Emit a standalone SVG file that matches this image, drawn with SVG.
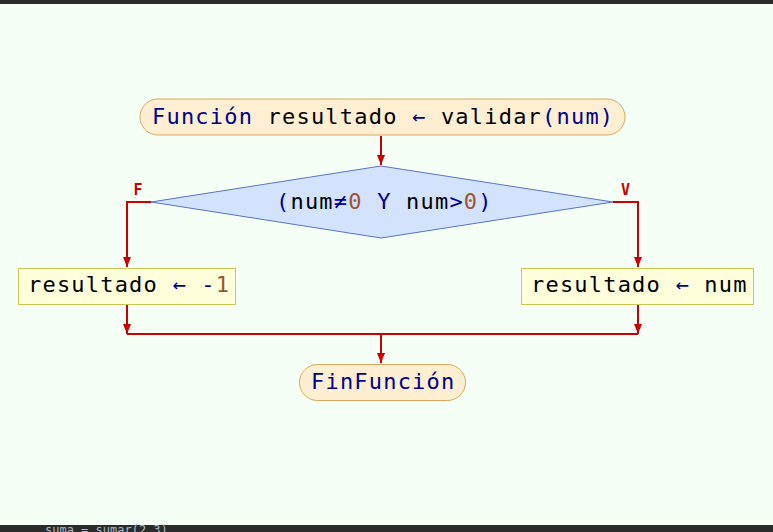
<svg xmlns="http://www.w3.org/2000/svg" width="773" height="532" viewBox="0 0 773 532">
<defs>
<style>
.t{font-family:"DejaVu Sans Mono","Liberation Mono",monospace;font-size:22px;letter-spacing:1.2px}
.k{fill:#000090}.b{fill:#000}.n{fill:#a0522d}
.term{fill:#feefd2;stroke:#d8a95c;stroke-width:1}
.box{fill:#ffffdc;stroke:#cdc752;stroke-width:1}
.dec{fill:#d3e2fd;stroke:#5a73c8;stroke-width:1}
.c{fill:none;stroke:#cc0000;stroke-width:2}
.lbl{font-family:"DejaVu Sans Mono","Liberation Mono",monospace;font-size:15px;font-weight:bold;fill:#cc0000;text-anchor:middle}
</style>
<marker id="ah" viewBox="0 0 10 8" refX="10" refY="4" markerWidth="10" markerHeight="8" markerUnits="userSpaceOnUse" orient="auto">
<path d="M0,0 L10,4 L0,8 Z" fill="#cc0000"/>
</marker>
</defs>
<rect x="0" y="0" width="773" height="532" fill="#f6fff6"/>
<rect x="0" y="0" width="773" height="4" fill="#2b2b2b"/>
<rect x="0" y="525" width="773" height="7" fill="#2b2b2b"/>
<text x="45" y="534" font-family="DejaVu Sans Mono,monospace" font-size="12" fill="#a9b7c6">suma = sumar(2,3)</text>

<g id="connectors">
<path class="c" d="M381,136 V165" marker-end="url(#ah)"/>
<path class="c" d="M151,202 H127 V267" marker-end="url(#ah)"/>
<path class="c" d="M613,202 H638 V267" marker-end="url(#ah)"/>
<path class="c" d="M127,305 V334" marker-end="url(#ah)"/>
<path class="c" d="M638,305 V334" marker-end="url(#ah)"/>
<path class="c" d="M127,334 H638"/>
<path class="c" d="M381,334 V363" marker-end="url(#ah)"/>
<text class="lbl" x="138" y="195">F</text>
<text class="lbl" x="625.5" y="195">V</text>
</g>

<g id="start">
<rect class="term" x="140" y="99" width="485" height="36" rx="18"/>
<text class="t" x="152" y="124"><tspan class="k">Función</tspan><tspan class="b"> resultado </tspan><tspan class="k">←</tspan><tspan class="b"> validar</tspan><tspan class="k">(num)</tspan></text>
</g>

<g id="cond">
<polygon class="dec" points="381,166 613,202 381,238 151,202"/>
<text class="t" x="276" y="209"><tspan class="k">(</tspan><tspan class="b">num</tspan><tspan class="k">≠</tspan><tspan class="n">0</tspan><tspan class="k"> Y </tspan><tspan class="b">num</tspan><tspan class="k">&gt;</tspan><tspan class="n">0</tspan><tspan class="k">)</tspan></text>
</g>

<g id="falseBranch">
<rect class="box" x="18.5" y="268.5" width="217" height="36"/>
<text class="t" x="28" y="292"><tspan class="b">resultado </tspan><tspan class="k">← -</tspan><tspan class="n">1</tspan></text>
</g>

<g id="trueBranch">
<rect class="box" x="521.5" y="268.5" width="232" height="36"/>
<text class="t" x="531" y="292"><tspan class="b">resultado </tspan><tspan class="k">←</tspan><tspan class="b"> num</tspan></text>
</g>

<g id="end">
<rect class="term" x="299.5" y="364.5" width="166" height="36" rx="18"/>
<text class="t k" x="311" y="389">FinFunción</text>
</g>
</svg>
